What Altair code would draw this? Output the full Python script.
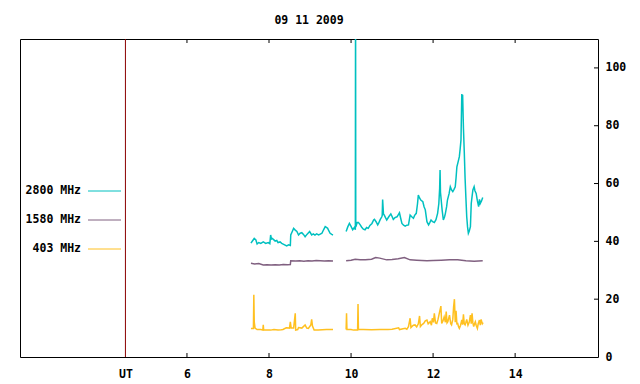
import altair as alt
import pandas as pd

TITLE = "09 11 2009"
SERIES = ["2800 MHz", "1580 MHz", "403 MHz"]
COLORS = ["#00c0c0", "#806080", "#ffc020"]
UT_POS = 4.5
X_TICKS = [6, 8, 10, 12, 14]
Y_TICKS = [0, 20, 40, 60, 80, 100]

# 2800 MHz
t2800_a = [7.56, 7.60, 7.64, 7.68, 7.71, 7.75, 7.80, 7.86, 7.92, 7.98, 8.02, 8.04, 8.06, 8.08, 8.12, 8.15, 8.19,
           8.22, 8.27, 8.31, 8.37, 8.43, 8.48, 8.52, 8.53, 8.57, 8.60, 8.64, 8.68, 8.72, 8.76, 8.80, 8.84, 8.88,
           8.93, 8.99, 9.04, 9.08, 9.12, 9.16, 9.21, 9.25, 9.29, 9.33, 9.37, 9.40, 9.43, 9.46, 9.49, 9.53, 9.56]
v2800_a = [39.4, 40.2, 41.0, 40.5, 39.1, 39.6, 39.3, 39.8, 39.3, 39.6, 39.2, 42.2, 40.8, 41.0, 40.5, 40.1, 40.3,
           39.6, 39.8, 39.3, 38.9, 38.4, 38.8, 38.6, 42.2, 43.5, 44.5, 43.9, 43.4, 42.2, 42.8, 43.0, 42.4, 41.6,
           42.5, 43.4, 42.2, 42.6, 42.2, 42.6, 42.2, 42.5, 42.8, 44.0, 45.1, 44.8, 44.5, 43.6, 42.8, 42.4, 42.2]
t2800_b = [9.88, 9.92, 9.96, 10.00, 10.04, 10.08, 10.105, 10.11, 10.115, 10.15, 10.18, 10.22, 10.26, 10.30, 10.34,
           10.38, 10.42, 10.46, 10.51, 10.55, 10.57, 10.61, 10.65, 10.67, 10.71, 10.75, 10.76, 10.77, 10.79, 10.81,
           10.84, 10.87, 10.92, 10.97, 11.00, 11.03, 11.07, 11.12, 11.15, 11.18, 11.21, 11.24, 11.28, 11.32, 11.36,
           11.40, 11.44, 11.48, 11.52, 11.55, 11.59, 11.62, 11.64, 11.67, 11.70, 11.75, 11.78, 11.81, 11.85, 11.89,
           11.92, 11.95, 11.99, 12.03, 12.07, 12.11, 12.14, 12.16, 12.17, 12.18, 12.22, 12.25, 12.28, 12.30, 12.33,
           12.35, 12.39, 12.42, 12.45, 12.48, 12.51, 12.54, 12.56, 12.58, 12.61, 12.64, 12.66, 12.68, 12.70, 12.71,
           12.72, 12.74, 12.76, 12.78, 12.80, 12.82, 12.84, 12.86, 12.88, 12.91, 12.93, 12.95, 12.97, 13.00, 13.02,
           13.05, 13.08, 13.11, 13.13, 13.15, 13.18, 13.21]
v2800_b = [43.4, 45.0, 46.2, 45.2, 44.0, 44.8, 44.0, 130.0, 45.0, 46.5, 46.5, 45.8, 44.9, 44.2, 44.0,
           44.8, 44.5, 45.5, 46.2, 47.4, 47.6, 46.8, 45.7, 46.2, 47.5, 48.5, 49.0, 54.5, 49.5, 49.1,
           48.2, 47.4, 48.5, 49.5, 48.6, 47.6, 48.2, 48.5, 49.2, 49.9, 48.0, 46.2, 45.6, 45.3, 45.6,
           45.7, 49.1, 48.5, 48.0, 49.0, 49.7, 53.0, 56.0, 55.0, 54.3, 53.7, 52.0, 50.9, 46.8, 45.7,
           46.5, 47.4, 46.8, 46.5, 47.5, 49.7, 53.1, 58.4, 64.7, 57.0, 50.9, 47.4, 48.5, 49.7, 52.0,
           54.3, 56.5, 58.9, 57.8, 57.2, 58.0, 58.9, 62.0, 65.8, 67.5, 69.3, 72.0, 75.1, 91.0, 88.0,
           90.7, 79.1, 71.0, 61.8, 55.0, 48.5, 45.0, 42.8, 43.5, 45.1, 53.1, 55.5, 57.8, 58.9, 57.5,
           56.6, 54.0, 52.0, 54.5, 53.1, 54.0, 55.2]

# 1580 MHz
t1580_a = [7.56, 7.65, 7.75, 7.86, 7.95, 8.05, 8.15, 8.25, 8.35, 8.45, 8.52, 8.53, 8.65, 8.75, 8.85, 8.95, 9.05,
           9.15, 9.25, 9.35, 9.45, 9.56]
v1580_a = [32.4, 32.2, 32.3, 31.8, 31.9, 31.8, 31.9, 31.8, 32.0, 31.9, 32.0, 33.3, 33.2, 33.3, 33.1, 33.3, 33.2,
           33.4, 33.3, 33.2, 33.3, 33.2]
t1580_b = [9.88, 10.00, 10.10, 10.22, 10.35, 10.50, 10.60, 10.70, 10.87, 11.00, 11.15, 11.30, 11.44, 11.60, 11.85,
           12.00, 12.20, 12.40, 12.60, 12.80, 13.00, 13.21]
v1580_b = [33.3, 33.5, 33.8, 33.6, 33.6, 33.8, 34.4, 34.2, 33.6, 33.7, 34.0, 34.4, 33.6, 33.5, 33.3,
           33.4, 33.5, 33.6, 33.6, 33.3, 33.1, 33.3]

# 403 MHz
t403_a = [7.56, 7.62, 7.63, 7.64, 7.66, 7.71, 7.80, 7.85, 7.86, 7.87, 7.95, 8.04, 8.12, 8.22, 8.30, 8.34, 8.42,
          8.50, 8.52, 8.54, 8.60, 8.64, 8.65, 8.70, 8.72, 8.80, 8.88, 8.92, 8.96, 9.02, 9.04, 9.06, 9.10, 9.20,
          9.30, 9.40, 9.56]
v403_a = [9.9, 9.9, 21.5, 12.2, 10.0, 9.5, 9.5, 9.3, 11.1, 9.3, 9.3, 9.3, 9.5, 9.3, 9.4, 9.5, 10.1,
          10.0, 12.2, 10.0, 10.0, 15.1, 9.3, 9.5, 10.2, 10.0, 11.1, 10.0, 9.9, 11.1, 13.0, 10.7, 9.3, 9.3,
          9.4, 9.5, 9.5]
t403_b = [9.88, 9.89, 9.90, 10.00, 10.06, 10.10, 10.16, 10.17, 10.18, 10.30, 10.50, 10.70, 10.90, 11.00, 11.16,
          11.18, 11.32, 11.36, 11.40, 11.44, 11.46, 11.48, 11.52, 11.56, 11.60, 11.64, 11.67, 11.69, 11.73, 11.77,
          11.81, 11.85, 11.88, 11.93, 11.96, 11.98, 12.01, 12.03, 12.06, 12.09, 12.12, 12.16, 12.19, 12.21, 12.24,
          12.27, 12.30, 12.32, 12.34, 12.36, 12.40, 12.43, 12.45, 12.48, 12.50, 12.52, 12.54, 12.56, 12.58, 12.60,
          12.62, 12.64, 12.67, 12.70, 12.72, 12.74, 12.76, 12.78, 12.80, 12.82, 12.85, 12.88, 12.91, 12.93, 12.95,
          12.97, 12.99, 13.01, 13.03, 13.05, 13.08, 13.10, 13.13, 13.15, 13.17, 13.20, 13.22]
v403_b = [9.5, 15.1, 9.5, 9.5, 9.3, 9.3, 9.3, 18.3, 9.5, 9.5, 9.4, 9.5, 9.5, 9.6, 10.1,
          9.5, 9.9, 9.6, 10.5, 13.4, 10.2, 10.5, 11.0, 11.1, 10.4, 11.5, 14.2, 10.5, 11.2, 11.6,
          12.5, 12.8, 11.5, 12.2, 11.0, 13.4, 12.0, 15.1, 11.8, 11.6, 13.0, 15.7, 17.6, 11.6, 12.5,
          13.9, 12.0, 15.7, 11.8, 12.2, 14.5, 11.5, 11.1, 13.0, 17.4, 20.0, 12.0, 16.0, 11.5, 11.6,
          10.5, 9.9, 11.0, 12.8, 11.2, 14.8, 11.5, 11.1, 12.0, 13.0, 11.0, 12.0, 14.5, 11.5, 15.1,
          11.8, 10.5, 11.5, 12.2, 11.0, 9.9, 11.5, 12.8, 11.0, 13.0, 11.5, 11.9]

parts = [
    (SERIES[0], "a", t2800_a, v2800_a), (SERIES[0], "b", t2800_b, v2800_b),
    (SERIES[1], "a", t1580_a, v1580_a), (SERIES[1], "b", t1580_b, v1580_b),
    (SERIES[2], "a", t403_a, v403_a), (SERIES[2], "b", t403_b, v403_b),
]
rows = []
for name, seg, ts, vs in parts:
    for t, v in zip(ts, vs):
        rows.append({"t": t, "v": v, "series": name, "seg": name + seg})
df = pd.DataFrame(rows)

W, H = 578, 318
FONT = "DejaVu Sans Mono"
xscale = alt.Scale(domain=[1.93, 16.02], nice=False, zero=False)
yscale = alt.Scale(domain=[0, 110], nice=False)

ut = alt.Chart(pd.DataFrame({"t": [UT_POS]})).mark_rule(color="#8b0000", strokeWidth=1).encode(
    x=alt.X("t:Q", scale=xscale,
            axis=alt.Axis(values=[UT_POS] + X_TICKS, title=None, ticks=False, domain=False, grid=False,
                          labelPadding=11,
                          labelExpr="datum.value == 4.5 ? 'UT' : datum.label"))
)

lines = alt.Chart(df).mark_line(strokeWidth=1.5, clip=True).encode(
    x=alt.X("t:Q", scale=xscale),
    y=alt.Y("v:Q", scale=yscale,
            axis=alt.Axis(orient="right", values=Y_TICKS, title=None, ticks=False, domain=False, grid=False,
                          labelPadding=7)),
    color=alt.Color("series:N", scale=alt.Scale(domain=SERIES, range=COLORS), legend=None),
    detail="seg:N",
    order="t:Q",
)

xt = pd.DataFrame({"t": X_TICKS})
yt = pd.DataFrame({"v": Y_TICKS[1:]})
bot_ticks = alt.Chart(xt).mark_rule(color="black").encode(
    x=alt.X("t:Q", scale=xscale), y=alt.value(H), y2=alt.value(H - 4))
top_ticks = alt.Chart(xt).mark_rule(color="black").encode(
    x=alt.X("t:Q", scale=xscale), y=alt.value(0), y2=alt.value(4))
right_ticks = alt.Chart(yt).mark_rule(color="black").encode(
    y=alt.Y("v:Q", scale=yscale), x=alt.value(W), x2=alt.value(W - 4))

legend_layers = []
for i, (name, col) in enumerate(zip(SERIES, COLORS)):
    ly = 152 + 29 * i
    legend_layers.append(
        alt.Chart(pd.DataFrame({"label": [name]})).mark_text(
            align="right", baseline="middle", font=FONT, fontSize=11.5, fontWeight="bold", color="black"
        ).encode(text="label:N", x=alt.value(61), y=alt.value(ly))
    )
    legend_layers.append(
        alt.Chart(pd.DataFrame({"label": [name]})).mark_rule(color=col, strokeWidth=1).encode(
            x=alt.value(68), x2=alt.value(101), y=alt.value(ly))
    )

chart = alt.layer(ut, lines, bot_ticks, top_ticks, right_ticks, *legend_layers).properties(
    width=W, height=H,
    title=alt.Title(TITLE, font=FONT, fontSize=11.5, fontWeight="bold", color="black",
                    anchor="middle", baseline="alphabetic", frame="group", offset=16, dy=13),
    autosize=alt.AutoSizeParams(type="none"),
    padding={"left": 12, "top": 31, "right": 34, "bottom": 22},
).configure(background="white").configure_view(stroke="black", strokeWidth=1).configure_axis(
    labelFont=FONT, labelFontSize=11.5, labelFontWeight="bold", labelColor="black"
)

chart.save("out.html", embed_options={"renderer": "svg", "actions": False})
